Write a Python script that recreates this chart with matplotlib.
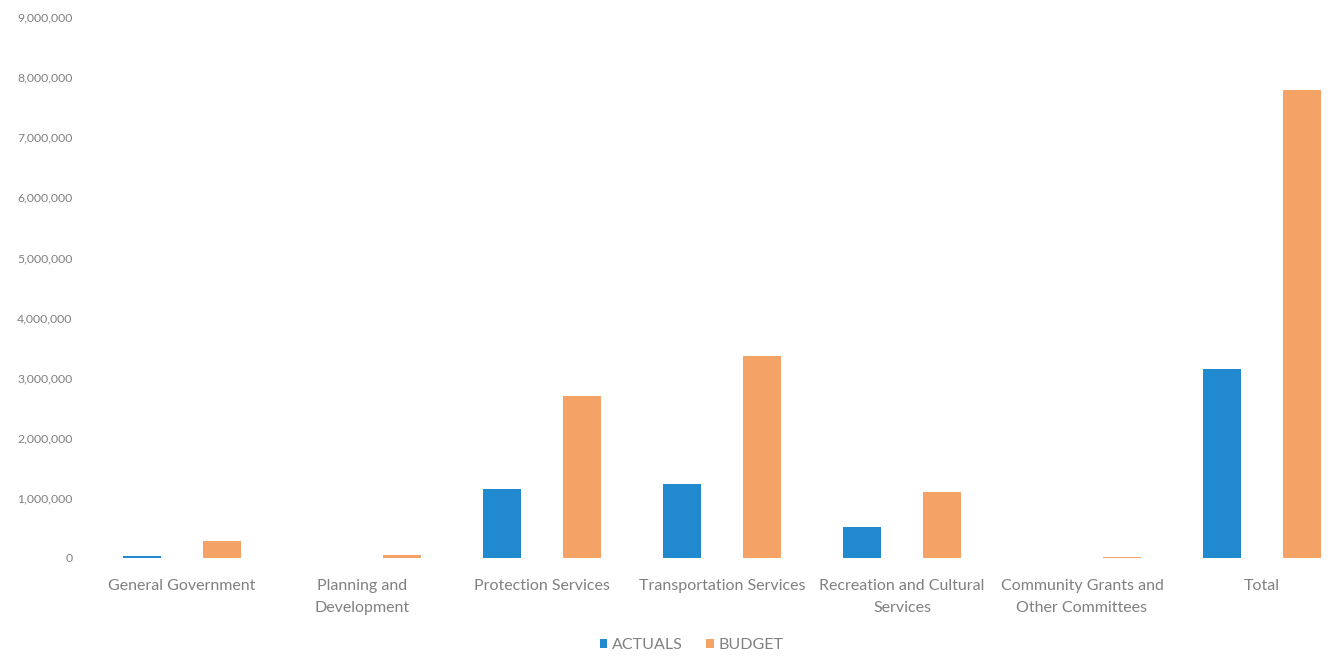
import matplotlib
matplotlib.use("Agg")
import matplotlib.pyplot as plt
import numpy as np
from matplotlib.ticker import FuncFormatter

categories = ["General Government", "Planning and\nDevelopment", "Protection Services",
              "Transportation Services", "Recreation and Cultural\nServices",
              "Community Grants and\nOther Committees", "Total"]
actuals = [30000, 0, 1150000, 1230000, 520000, 0, 3140000]
budget = [280000, 50000, 2700000, 3360000, 1100000, 15000, 7790000]
series_names = ["ACTUALS", "BUDGET"]
yticks = list(range(0, 9000001, 1000000))

blue = "#2189CE"
orange = "#F4A266"
grey = "#808080"

plt.rcParams['font.family'] = ['Lato', 'DejaVu Sans']

fig = plt.figure(figsize=(13.3, 6.6), dpi=100)
ax = fig.add_axes([92/1330, (660-558)/660, (1330-92)/1330, (558-17)/660])

x = np.arange(len(categories))
w = 0.21
off = 0.222
ax.bar(x - off, actuals, width=w, color=blue, label=series_names[0])
ax.bar(x + off, budget, width=w, color=orange, label=series_names[1])

ax.set_xlim(-0.5, 6.5 - 22/180)
ax.set_ylim(0, 9000000)
ax.set_yticks(yticks)
ax.yaxis.set_major_formatter(FuncFormatter(lambda v, p: f"{int(v):,}"))
ax.set_xticks(x)
ax.set_xticklabels(categories, fontsize=11.5, color=grey, linespacing=1.75)
ax.tick_params(axis='y', labelsize=8.8, colors=grey, length=0, pad=14)
ax.tick_params(axis='x', length=0, pad=15, colors=grey)
for s in ax.spines.values():
    s.set_visible(False)

leg = fig.legend(loc='center', bbox_to_anchor=(0.52, 1 - 645/660), ncol=2, frameon=False,
                 fontsize=11.5, handlelength=0.45, handleheight=0.45, handletextpad=0.3,
                 columnspacing=1.5)
for t in leg.get_texts():
    t.set_color(grey)

fig.savefig("out.png", dpi=100)
